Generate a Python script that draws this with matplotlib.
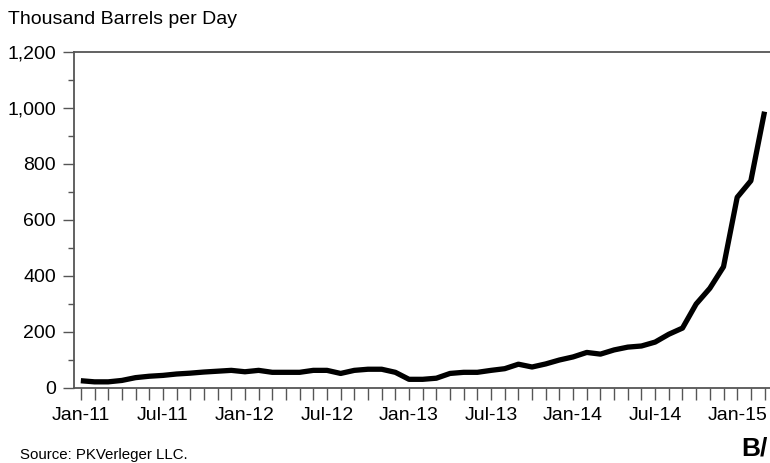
import numpy as np
import matplotlib
matplotlib.use('Agg')
import matplotlib.pyplot as plt

plt.rcParams['font.family'] = ['Liberation Sans', 'DejaVu Sans']

# monthly values, Jan-11 .. Mar-15 (thousand barrels per day)
values = [26, 22, 22, 27, 37, 42, 45, 50, 53, 57, 60, 63,
          58, 63, 56, 56, 56, 63, 63, 52, 63, 67, 67, 56,
          31, 31, 35, 52, 56, 56, 63, 69, 85, 75, 86, 100,
          111, 127, 121, 136, 146, 150, 164, 192, 214, 300, 356, 433,
          681, 740, 987]
month_labels = ['Jan-11', 'Jul-11', 'Jan-12', 'Jul-12', 'Jan-13',
                'Jul-13', 'Jan-14', 'Jul-14', 'Jan-15']
y_ticks = [0, 200, 400, 600, 800, 1000, 1200]

x = np.arange(len(values))

fig = plt.figure(figsize=(7.7, 4.63), dpi=100)
ax = fig.add_axes([74 / 770, 1 - 388 / 463, 1 - 74 / 770, (388 - 52) / 463])

ax.plot(x, values, color='black', lw=3.8, solid_joinstyle='round', solid_capstyle='butt')

ax.set_xlim(-0.5, 50.4)
ax.set_ylim(0, 1200)

ax.set_xticks(x)
xl = [''] * len(x)
for i, lab in enumerate(month_labels):
    xl[i * 6] = lab
ax.set_xticklabels(xl)
ax.set_yticks(y_ticks)
ax.set_yticklabels(['{:,}'.format(v) for v in y_ticks])
ax.set_yticks(np.arange(100, 1200, 200), minor=True)

ax.tick_params(axis='x', direction='out', length=8.6, width=1, color='#555555',
               labelsize=14, pad=5)
ax.tick_params(axis='y', which='major', direction='out', length=8, width=1,
               color='#555555', labelsize=14, pad=5)
ax.tick_params(axis='y', which='minor', direction='out', length=4.3, width=1,
               color='#555555')

for s in ['left', 'bottom', 'top']:
    ax.spines[s].set_color('#555555')
    ax.spines[s].set_linewidth(1.3)
ax.spines['right'].set_visible(False)

fig.text(8 / 770, 1 - 20 / 463, 'Thousand Barrels per Day', fontsize=14,
         ha='left', va='center')
fig.text(20 / 770, 1 - 455 / 463, 'Source: PKVerleger LLC.', fontsize=10.8,
         ha='left', va='center')
fig.text(768 / 770, 1 - 461 / 463, 'B/', fontsize=19, fontweight='bold',
         ha='right', va='bottom')

fig.savefig('out.png', dpi=100)
